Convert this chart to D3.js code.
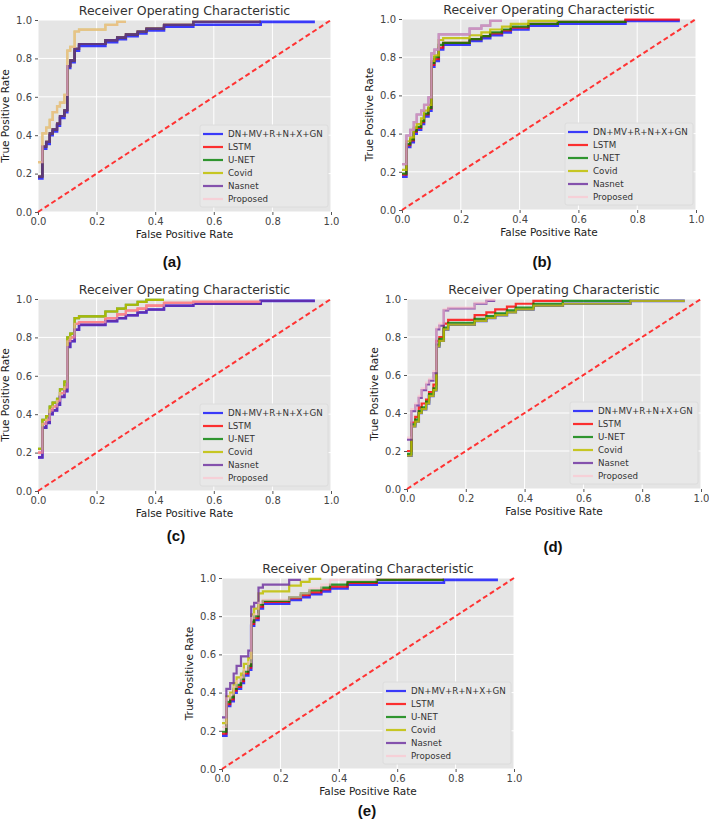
<!DOCTYPE html>
<html>
<head>
<meta charset="utf-8">
<script src="https://cdn.jsdelivr.net/npm/d3@7"></script>
<style>
  body { margin: 0; background: #fff; }
  svg { display: block; }
</style>
</head>
<body>
<svg id="chart" width="709" height="825"></svg>
<script>
// series shown in every panel
var seriesNames = ["DN+MV+R+N+X+GN", "LSTM", "U-NET", "Covid", "Nasnet", "Proposed"];
var seriesColors = ["#0000ff", "#ff0000", "#008000", "#bfbf00", "#6a2c9e", "#ffc0cb"];
var seriesAlpha = [0.75, 0.8, 0.8, 0.85, 0.8, 0.6];
var tickValues = [0, 0.2, 0.4, 0.6, 0.8, 1.0];

// FPR positions where the step curves jump (shared by all curves)
var fprSteps = [0, 0.015, 0.028, 0.04, 0.05, 0.065, 0.075, 0.09, 0.10, 0.11, 0.125, 0.14, 0.23, 0.27, 0.30, 0.34, 0.37, 0.43, 0.53, 0.76, 0.945];

// TPR after each jump, null = curve already ended
var rocBase     = [0.175, 0.33, 0.355, 0.40, 0.42, 0.45, 0.49, 0.52, 0.75, 0.78, 0.84, 0.865, 0.885, 0.90, 0.915, 0.93, 0.945, 0.965, 0.975, 0.99, 0.99];
var rocLow1     = [0.185, 0.34, 0.365, 0.41, 0.43, 0.46, 0.50, 0.53, 0.76, 0.79, 0.85, 0.875, 0.895, 0.91, 0.925, 0.94, 0.955, 0.975, 0.99, 0.99, null];
var rocLow1Long = [0.185, 0.34, 0.365, 0.41, 0.43, 0.46, 0.50, 0.53, 0.76, 0.79, 0.85, 0.875, 0.895, 0.91, 0.925, 0.94, 0.955, 0.975, 0.985, 0.997, 0.997];
var rocLow2     = [0.195, 0.35, 0.375, 0.42, 0.44, 0.47, 0.51, 0.54, 0.77, 0.80, 0.86, 0.88, 0.90, 0.92, 0.935, 0.95, 0.965, 0.98, 0.99, 0.99, null];
var rocUpA      = [0.26, 0.41, 0.44, 0.48, 0.52, 0.55, 0.57, 0.61, 0.84, 0.86, 0.94, 0.95, 0.975, 0.99, 0.99, null, null, null, null, null, null];
var rocBGreen   = [0.19, 0.345, 0.37, 0.415, 0.435, 0.465, 0.505, 0.535, 0.77, 0.80, 0.865, 0.875, 0.895, 0.91, 0.93, 0.945, 0.96, 0.975, 0.985, 0.99, null];
var rocBYellow  = [0.21, 0.36, 0.38, 0.43, 0.45, 0.48, 0.52, 0.55, 0.78, 0.81, 0.89, 0.90, 0.915, 0.93, 0.945, 0.96, 0.975, 0.99, 0.99, null, null];
var rocBTop     = [0.24, 0.39, 0.42, 0.46, 0.50, 0.52, 0.55, 0.59, 0.82, 0.84, 0.92, 0.92, 0.95, 0.965, 0.99, 0.99, null, null, null, null, null];
var rocCUpper   = [0.22, 0.37, 0.39, 0.44, 0.46, 0.48, 0.53, 0.57, 0.80, 0.82, 0.90, 0.91, 0.935, 0.95, 0.97, 0.985, 0.995, 0.995, null, null, null];
var rocCMid     = [0.20, 0.35, 0.37, 0.42, 0.44, 0.47, 0.51, 0.54, 0.78, 0.80, 0.87, 0.88, 0.90, 0.92, 0.94, 0.95, 0.965, 0.98, 0.985, 0.985, null];
var rocDRed     = [0.20, 0.35, 0.38, 0.43, 0.45, 0.47, 0.51, 0.55, 0.78, 0.80, 0.87, 0.89, 0.915, 0.93, 0.945, 0.96, 0.975, 0.99, 0.99, null, null];
var rocDPink    = [0.27, 0.42, 0.45, 0.49, 0.53, 0.56, 0.58, 0.62, 0.85, 0.87, 0.945, 0.955, 0.98, 0.995, 0.995, null, null, null, null, null, null];
var rocEYellow  = [0.24, 0.38, 0.40, 0.45, 0.48, 0.50, 0.55, 0.58, 0.81, 0.84, 0.92, 0.93, 0.96, 0.98, 0.995, 0.995, null, null, null, null, null];
var rocETop     = [0.27, 0.42, 0.45, 0.50, 0.54, 0.59, 0.59, 0.62, 0.85, 0.87, 0.95, 0.965, 0.99, 0.99, null, null, null, null, null, null, null];
var rocEPink    = [0.22, 0.37, 0.39, 0.43, 0.46, 0.48, 0.52, 0.56, 0.79, 0.81, 0.87, 0.885, 0.90, 0.92, 0.945, 0.965, 0.99, 0.99, 0.99, null, null];

// which curve each series uses, per panel (same order as seriesNames)
var panelA = [rocBase, rocLow1, rocLow1, rocUpA, rocLow1, rocUpA];
var panelB = [rocBase, rocLow1Long, rocBGreen, rocBYellow, rocBTop, rocBTop];
var panelC = [rocBase, rocCMid, rocCUpper, rocCUpper, rocBase, rocCMid];
var panelD = [rocBase, rocDRed, rocLow1, rocBase, rocUpA, rocDPink];
var panelE = [rocBase, rocLow1, rocLow2, rocEYellow, rocETop, rocEPink];

var panels = [
	{tag: "(a)", curves: panelA, left: 38, top: 20, w: 293, h: 192, tagX: 172, tagY: 267},
	{tag: "(b)", curves: panelB, left: 402, top: 19, w: 294, h: 191, tagX: 542, tagY: 267},
	{tag: "(c)", curves: panelC, left: 38, top: 299, w: 293, h: 192, tagX: 176, tagY: 541},
	{tag: "(d)", curves: panelD, left: 407, top: 299, w: 294, h: 190, tagX: 553, tagY: 552},
	{tag: "(e)", curves: panelE, left: 222, top: 578, w: 292, h: 191, tagX: 367, tagY: 816}
];

var svg = d3.select("#chart");
var font = "DejaVu Sans, sans-serif";

panels.forEach(function(p) {
	var x = d3.scaleLinear().domain([0, 1]).range([0, p.w]);
	var y = d3.scaleLinear().domain([0, 1]).range([p.h, 0]);
	var g = svg.append("g").attr("transform", "translate(" + p.left + "," + p.top + ")");

	g.append("rect").attr("width", p.w).attr("height", p.h).attr("fill", "#e5e5e5");

	// grid
	g.selectAll(".gx").data(tickValues).enter().append("line")
		.attr("x1", function(d){ return x(d); }).attr("x2", function(d){ return x(d); })
		.attr("y1", 0).attr("y2", p.h)
		.attr("stroke", "#fff").attr("stroke-width", 1);
	g.selectAll(".gy").data(tickValues).enter().append("line")
		.attr("y1", function(d){ return y(d); }).attr("y2", function(d){ return y(d); })
		.attr("x1", 0).attr("x2", p.w)
		.attr("stroke", "#fff").attr("stroke-width", 1);

	// axes (ticks only, no domain line)
	var xAxis = g.append("g").attr("transform", "translate(0," + p.h + ")")
		.call(d3.axisBottom(x).tickValues(tickValues).tickFormat(d3.format(".1f")).tickSize(3).tickPadding(3));
	var yAxis = g.append("g")
		.call(d3.axisLeft(y).tickValues(tickValues).tickFormat(d3.format(".1f")).tickSize(3).tickPadding(3));
	[xAxis, yAxis].forEach(function(a) {
		a.select(".domain").remove();
		a.selectAll("line").attr("stroke", "#555");
		a.selectAll("text").attr("fill", "#444").style("font-family", font).style("font-size", "10px");
	});

	// chance line
	g.append("line")
		.attr("x1", x(0)).attr("y1", y(0)).attr("x2", x(1)).attr("y2", y(1))
		.attr("stroke", "#ff3333").attr("stroke-width", 2).attr("stroke-dasharray", "5,3");

	var line = d3.line()
		.defined(function(d){ return d[1] != null; })
		.x(function(d){ return x(d[0]); })
		.y(function(d){ return y(d[1]); })
		.curve(d3.curveStepAfter);

	p.curves.forEach(function(tpr, i) {
		var pts = fprSteps.map(function(f, k){ return [f, tpr[k]]; });
		g.append("path").datum(pts)
			.attr("d", line)
			.attr("fill", "none")
			.attr("stroke", seriesColors[i])
			.attr("stroke-width", i == 0 ? 2.6 : 2.2)
			.attr("stroke-opacity", seriesAlpha[i]);
	});

	// legend, lower right
	var lg = g.append("g").attr("transform", "translate(" + (p.w - 131) + "," + (p.h - 87) + ")");
	lg.append("rect").attr("width", 128).attr("height", 82)
		.attr("fill", "#e8e8e8").attr("stroke", "#dcdcdc").attr("rx", 2);
	seriesNames.forEach(function(name, i) {
		var yy = 9 + i * 13;
		lg.append("line").attr("x1", 3).attr("x2", 23).attr("y1", yy).attr("y2", yy)
			.attr("stroke", seriesColors[i]).attr("stroke-width", 2.2).attr("stroke-opacity", seriesAlpha[i]);
		lg.append("text").attr("x", 28).attr("y", yy + 3)
			.style("font-family", font).style("font-size", "8.7px").attr("fill", "#333")
			.text(name);
	});

	g.append("text").attr("x", p.w / 2).attr("y", -5).attr("text-anchor", "middle")
		.style("font-family", font).style("font-size", "12.5px").attr("fill", "#333")
		.text("Receiver Operating Characteristic");
	g.append("text").attr("x", p.w / 2).attr("y", p.h + 26).attr("text-anchor", "middle")
		.style("font-family", font).style("font-size", "10.5px").attr("fill", "#222")
		.text("False Positive Rate");
	g.append("text").attr("transform", "translate(-29," + (p.h / 2) + ") rotate(-90)")
		.attr("text-anchor", "middle")
		.style("font-family", font).style("font-size", "10.5px").attr("fill", "#222")
		.text("True Positive Rate");

	svg.append("text").attr("x", p.tagX).attr("y", p.tagY).attr("text-anchor", "middle")
		.style("font-family", "Liberation Sans, Arial, sans-serif").style("font-weight", "bold")
		.style("font-size", "15px").attr("fill", "#111")
		.text(p.tag);
});
</script>
</body>
</html>
